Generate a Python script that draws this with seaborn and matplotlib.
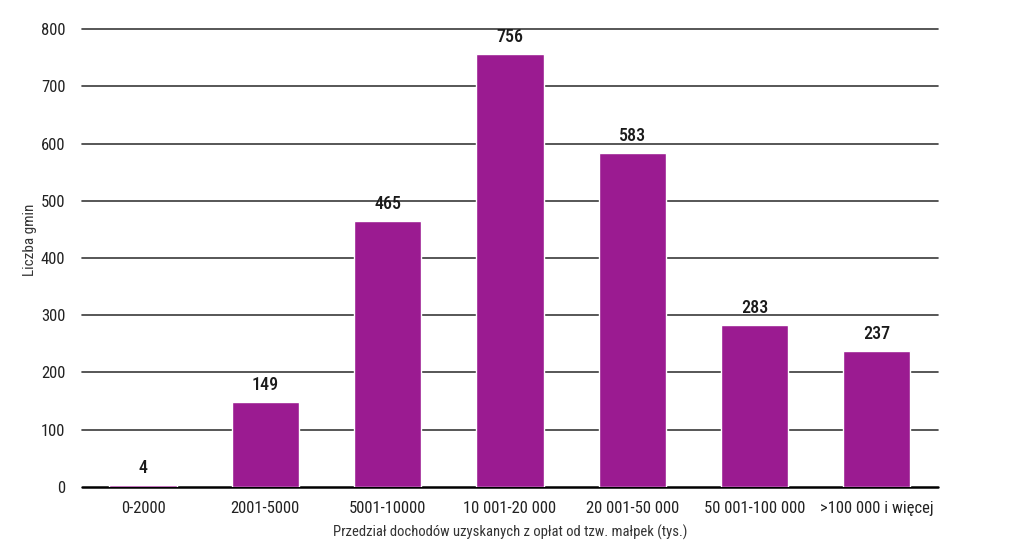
import matplotlib
matplotlib.use("Agg")
import matplotlib.pyplot as plt
import seaborn as sns
import pandas as pd

categories = ["0-2000", "2001-5000", "5001-10000", "10 001-20 000",
              "20 001-50 000", "50 001-100 000", ">100 000 i więcej"]
values = [4, 149, 465, 756, 583, 283, 237]
yticks = [0, 100, 200, 300, 400, 500, 600, 700, 800]

sns.set_theme(style="white")
plt.rcParams["font.family"] = ["Liberation Sans Narrow", "Roboto Condensed",
                               "DejaVu Sans Condensed", "DejaVu Sans"]
plt.rcParams["font.stretch"] = "condensed"

df = pd.DataFrame({"przedzial": categories, "gminy": values})

fig = plt.figure(figsize=(10.24, 5.49), dpi=100)
ax = fig.add_axes([0.080, 0.113, 0.836, 0.834])

sns.barplot(data=df, x="przedzial", y="gminy", color="#9b1b91",
            saturation=1, width=0.55, ax=ax, zorder=3)

ax.set_ylim(0, 800)
ax.set_xlim(-0.5, len(categories) - 0.5)
ax.set_yticks(yticks)
for t in yticks[1:]:
    ax.axhline(t, color="#3a3a3a", lw=1.2, zorder=1, clip_on=False)
ax.axhline(0, color="black", lw=1.8, zorder=2, clip_on=False)

# etykiety wartości nad słupkami (najwyższa bliżej, żeby nie wyjść poza osie)
for i, v in enumerate(values):
    ax.text(i, min(v + 14, 780), str(v), ha="center", va="bottom",
            fontsize=13, fontweight="medium", color="#1a1a1a")

for s in ax.spines.values():
    s.set_visible(False)
ax.tick_params(axis="both", length=0, labelsize=12, colors="#222222")
ax.tick_params(axis="y", pad=12)
ax.tick_params(axis="x", pad=10)
ax.set_xlabel("Przedział dochodów uzyskanych z opłat od tzw. małpek (tys.)",
              fontsize=10.5, color="#333333", labelpad=6)
ax.set_ylabel("Liczba gmin", fontsize=11, color="#333333")
ax.yaxis.set_label_coords(-0.052, 0.54)

fig.savefig("out.png", dpi=100)
